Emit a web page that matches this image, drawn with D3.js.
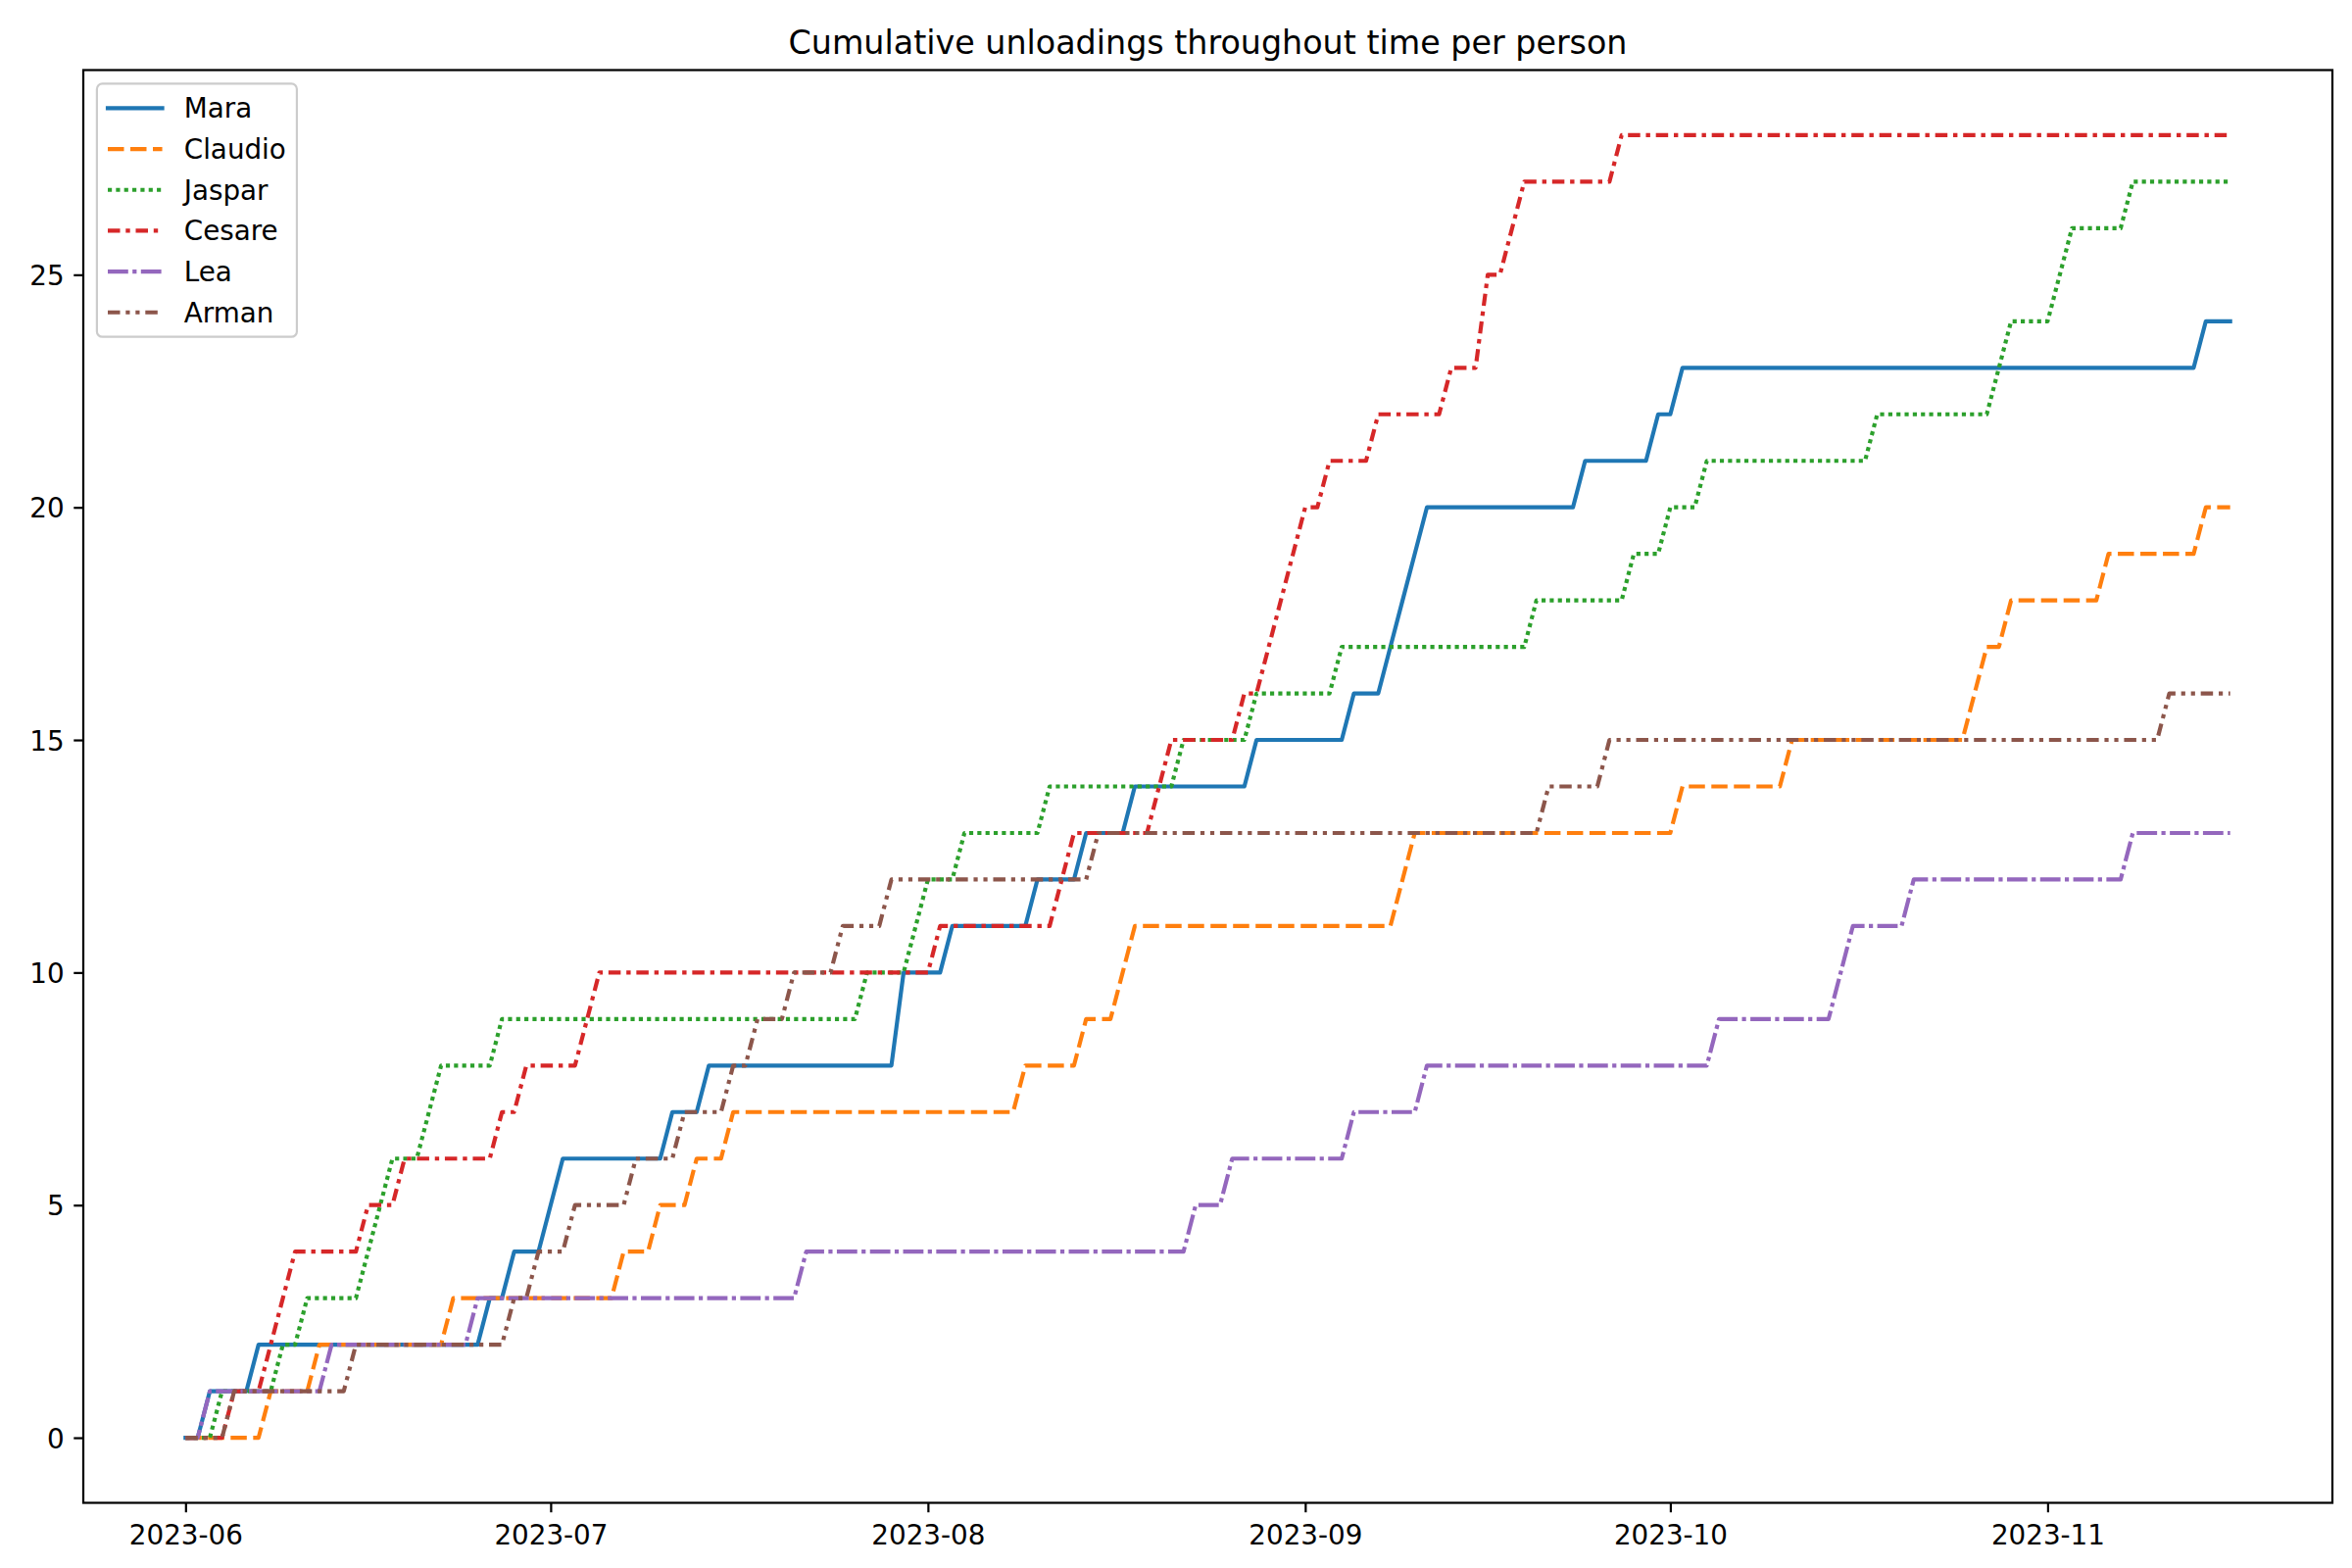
<!DOCTYPE html>
<html>
<head>
<meta charset="utf-8">
<script src="https://cdn.jsdelivr.net/npm/d3@7"></script>
<style>
  html, body { margin: 0; padding: 0; background: #fff; }
  svg { display: block; font-family: "DejaVu Sans", sans-serif; }
</style>
</head>
<body>
<svg id="chart" width="2400" height="1600"></svg>
<script>
// --- data: one entry per unloading, by date ---
const startDate = "2023-06-01";
const endDate   = "2023-11-16";

const people = ["Mara", "Claudio", "Jaspar", "Cesare", "Lea", "Arman"];

const maraDates = [
  "2023-06-03", "2023-06-07", "2023-06-26", "2023-06-28", "2023-07-01", "2023-07-02",
  "2023-07-11", "2023-07-14", "2023-07-30", "2023-07-30", "2023-08-03", "2023-08-10",
  "2023-08-14", "2023-08-18", "2023-08-28", "2023-09-05", "2023-09-08", "2023-09-09",
  "2023-09-10", "2023-09-11", "2023-09-24", "2023-09-30", "2023-10-02", "2023-11-14"
];
const claudioDates = [
  "2023-06-08", "2023-06-12", "2023-06-23", "2023-07-07", "2023-07-10", "2023-07-13",
  "2023-07-16", "2023-08-09", "2023-08-14", "2023-08-17", "2023-08-18", "2023-09-09",
  "2023-09-10", "2023-10-02", "2023-10-11", "2023-10-26", "2023-10-27", "2023-10-29",
  "2023-11-06", "2023-11-14"
];
const jasparDates = [
  "2023-06-04", "2023-06-09", "2023-06-11", "2023-06-16", "2023-06-17", "2023-06-18",
  "2023-06-21", "2023-06-22", "2023-06-27", "2023-07-27", "2023-07-31", "2023-08-01",
  "2023-08-04", "2023-08-11", "2023-08-22", "2023-08-28", "2023-09-04", "2023-09-20",
  "2023-09-28", "2023-10-01", "2023-10-04", "2023-10-18", "2023-10-28", "2023-10-29",
  "2023-11-02", "2023-11-03", "2023-11-08"
];
const cesareDates = [
  "2023-06-05", "2023-06-08", "2023-06-09", "2023-06-10", "2023-06-16", "2023-06-19",
  "2023-06-27", "2023-06-29", "2023-07-04", "2023-07-05", "2023-08-02", "2023-08-12",
  "2023-08-13", "2023-08-20", "2023-08-21", "2023-08-27", "2023-08-29", "2023-08-30",
  "2023-08-31", "2023-09-01", "2023-09-03", "2023-09-07", "2023-09-13", "2023-09-16",
  "2023-09-16", "2023-09-18", "2023-09-19", "2023-09-27"
];
const leaDates = [
  "2023-06-03", "2023-06-13", "2023-06-25", "2023-07-22", "2023-08-23", "2023-08-26",
  "2023-09-05", "2023-09-11", "2023-10-05", "2023-10-15", "2023-10-16", "2023-10-21",
  "2023-11-08"
];
const armanDates = [
  "2023-06-05", "2023-06-15", "2023-06-28", "2023-06-30", "2023-07-03", "2023-07-08",
  "2023-07-12", "2023-07-16", "2023-07-18", "2023-07-21", "2023-07-25", "2023-07-29",
  "2023-08-15", "2023-09-21", "2023-09-26", "2023-11-11"
];

const yTicks = [0, 5, 10, 15, 20, 25];
const titleText = "Cumulative unloadings throughout time per person";

// --- styling (matplotlib look at dpi 200) ---
const PT = 200 / 72;
const colors = ["#1f77b4", "#ff7f0e", "#2ca02c", "#d62728", "#9467bd", "#8c564b"];
const dashes = [
  null,
  [16.5, 6.5],
  [4.17, 4.17],
  [12.5, 5.8, 4.4, 5.8],
  [20.8, 4.4, 4.2, 4.4],
  [12.5, 5.8, 4.2, 5.8, 4.2, 5.8]
];
const lineW = 1.5 * PT;
const fontSize = 10 * PT;

const margin = { left: 85, right: 2380, top: 71.5, bottom: 1533.5 };

// --- build daily cumulative series ---
const parse = d3.utcParse("%Y-%m-%d");
const t0 = parse(startDate), t1 = parse(endDate);
const days = d3.utcDay.range(t0, d3.utcDay.offset(t1, 1));

const eventLists = [maraDates, claudioDates, jasparDates, cesareDates, leaDates, armanDates];
const series = people.map((name, i) => {
  const ev = eventLists[i].map(parse).sort((a, b) => a - b);
  let k = 0;
  const values = days.map(d => {
    while (k < ev.length && ev[k] <= d) k++;
    return { date: d, value: k };
  });
  return { name, values };
});

const yMax = d3.max(series, s => d3.max(s.values, v => v.value));
const yMin = 0;
const span = t1 - t0;

const x = d3.scaleUtc()
  .domain([new Date(+t0 - 0.05 * span), new Date(+t1 + 0.05 * span)])
  .range([margin.left, margin.right]);

const y = d3.scaleLinear()
  .domain([yMin - 0.05 * (yMax - yMin), yMax + 0.05 * (yMax - yMin)])
  .range([margin.bottom, margin.top]);

const svg = d3.select("#chart");

// lines
const line = d3.line()
  .x(d => x(d.date))
  .y(d => y(d.value));

const lineLayer = svg.append("g").attr("class", "lines");
lineLayer.selectAll("path")
  .data(series)
  .join("path")
    .attr("fill", "none")
    .attr("stroke", (d, i) => colors[i])
    .attr("stroke-width", lineW)
    .attr("stroke-linejoin", "round")
    .attr("stroke-linecap", (d, i) => dashes[i] ? "butt" : "square")
    .attr("stroke-dasharray", (d, i) => dashes[i] ? dashes[i].join(",") : null)
    .attr("d", d => line(d.values));

// axes
const tickLen = 3.5 * PT, tickPad = 3.5 * PT, spineW = 0.8 * PT;

const xAxis = svg.append("g")
  .attr("transform", `translate(0,${margin.bottom})`)
  .call(d3.axisBottom(x)
    .ticks(d3.utcMonth.every(1))
    .tickFormat(d3.utcFormat("%Y-%m"))
    .tickSize(tickLen)
    .tickPadding(tickPad));

const yAxis = svg.append("g")
  .attr("transform", `translate(${margin.left},0)`)
  .call(d3.axisLeft(y)
    .tickValues(yTicks)
    .tickFormat(d3.format("d"))
    .tickSize(tickLen)
    .tickPadding(tickPad));

[xAxis, yAxis].forEach(g => {
  g.select(".domain").remove();
  g.selectAll(".tick line").attr("stroke", "#000").attr("stroke-width", spineW);
  g.selectAll(".tick text")
    .attr("fill", "#000")
    .style("font-family", "DejaVu Sans")
    .style("font-size", fontSize + "px");
});
xAxis.selectAll(".tick text").attr("dy", "0.83em");
yAxis.selectAll(".tick text").attr("dy", "0.36em");

// spines
svg.append("rect")
  .attr("x", margin.left)
  .attr("y", margin.top)
  .attr("width", margin.right - margin.left)
  .attr("height", margin.bottom - margin.top)
  .attr("fill", "none")
  .attr("stroke", "#000")
  .attr("stroke-width", spineW)
  .attr("stroke-linejoin", "miter");

// title
svg.append("text")
  .attr("x", (margin.left + margin.right) / 2)
  .attr("y", margin.top - 6 * PT)
  .attr("text-anchor", "middle")
  .style("font-size", (12 * PT) + "px")
  .attr("fill", "#000")
  .text(titleText);

// legend
const legX = margin.left + 0.5 * fontSize;
const legY = margin.top + 0.5 * fontSize;
const borderPad = 0.4 * fontSize;
const handleLen = 2.0 * fontSize;
const handlePad = 0.8 * fontSize;
const rowPitch = 1.5 * fontSize;

const legend = svg.append("g").attr("class", "legend");
const legFrame = legend.append("rect")
  .attr("x", legX)
  .attr("y", legY)
  .attr("rx", 0.2 * fontSize)
  .attr("ry", 0.2 * fontSize)
  .attr("fill", "#fff")
  .attr("fill-opacity", 0.8)
  .attr("stroke", "#cccccc")
  .attr("stroke-width", spineW);

const rows = legend.selectAll("g.row")
  .data(series)
  .join("g")
    .attr("class", "row")
    .attr("transform", (d, i) => `translate(${legX + borderPad},${legY + borderPad + 0.5 * fontSize + i * rowPitch})`);

rows.append("line")
  .attr("x1", 0)
  .attr("x2", handleLen)
  .attr("stroke", (d, i) => colors[i])
  .attr("stroke-width", lineW)
  .attr("stroke-linecap", (d, i) => dashes[i] ? "butt" : "square")
  .attr("stroke-dasharray", (d, i) => dashes[i] ? dashes[i].join(",") : null);

const labels = rows.append("text")
  .attr("x", handleLen + handlePad)
  .attr("dy", "0.36em")
  .style("font-size", fontSize + "px")
  .attr("fill", "#000")
  .text(d => d.name);

const maxW = d3.max(labels.nodes(), n => n.getComputedTextLength());
legFrame
  .attr("width", borderPad * 2 + handleLen + handlePad + maxW)
  .attr("height", borderPad * 2 + fontSize + (series.length - 1) * rowPitch);
</script>
</body>
</html>
